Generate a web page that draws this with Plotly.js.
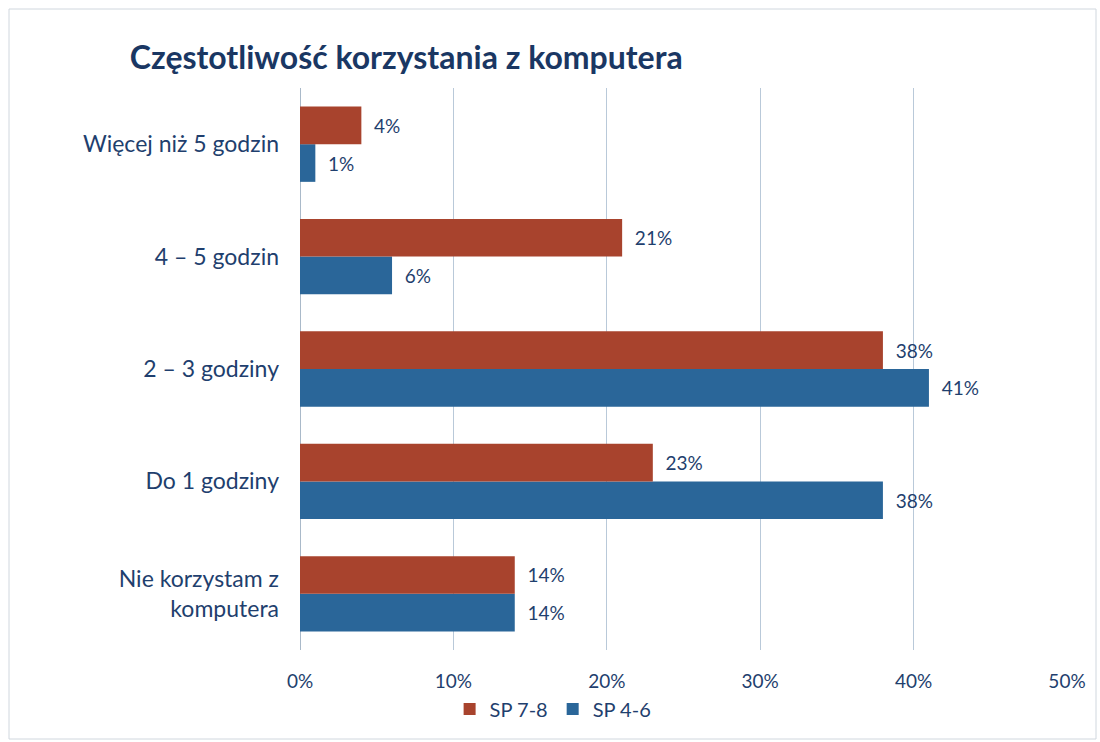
<!DOCTYPE html>
<html>
<head>
<meta charset="utf-8">
<script src="https://cdn.plot.ly/plotly-3.0.1.min.js"></script>
<style>
  html, body { margin: 0; padding: 0; background: #ffffff; }
  #chart { width: 1100px; height: 742px; }
</style>
</head>
<body>
<div id="chart"></div>
<script>
// Categories listed bottom-to-top (Plotly draws first category at bottom)
const categories = [
  "Nie korzystam z<br>komputera",
  "Do 1 godziny",
  "2 – 3 godziny",
  "4 – 5 godzin",
  "Więcej niż 5 godzin"
];
const sp78 = [14, 23, 38, 21, 4];
const sp46 = [14, 38, 41, 6, 1];
const seriesNames = ["SP 7-8", "SP 4-6"];
const tickVals = [0, 10, 20, 30, 40, 50];
const tickText = ["0%", "10%", "20%", "30%", "40%", "50%"];

const textColor = "#1F3F6E";
const fontFam = "Lato, 'Open Sans', sans-serif";

const pct = a => a.map(v => "\u00a0\u00a0" + v + "%");

// SP 4-6 first so that, in grouped horizontal bars, SP 7-8 sits above it
const traces = [
  {
    type: "bar", orientation: "h", name: seriesNames[1],
    y: categories, x: sp46,
    text: pct(sp46), textposition: "outside", cliponaxis: false,
    textfont: {color: textColor, size: 19, family: fontFam},
    marker: {color: "#2A6699"},
    showlegend: true
  },
  {
    type: "bar", orientation: "h", name: seriesNames[0],
    y: categories, x: sp78,
    text: pct(sp78), textposition: "outside", cliponaxis: false,
    textfont: {color: textColor, size: 19, family: fontFam},
    marker: {color: "#A8432D"},
    showlegend: true
  }
];

const layout = {
  width: 1100, height: 742,
  paper_bgcolor: "#ffffff", plot_bgcolor: "#ffffff",
  margin: {l: 300, r: 33, t: 88, b: 92},
  barmode: "group",
  bargap: 0.33, bargroupgap: 0,
  font: {family: fontFam, color: textColor, size: 19},
  title: {
    text: "<b>Częstotliwość korzystania z komputera</b>",
    x: 0.118, xanchor: "left", y: 0.922, yanchor: "middle",
    font: {size: 32, color: "#1A3763", family: fontFam}
  },
  xaxis: {
    range: [0, 50], tickvals: tickVals, ticktext: tickText,
    showgrid: true, gridcolor: "#B9C9D9", gridwidth: 1,
    zeroline: true, zerolinecolor: "#A9B9C9", zerolinewidth: 1,
    showline: false, ticks: "", ticklen: 0, ticklabelstandoff: 18,
    tickfont: {size: 19, color: textColor, family: fontFam}
  },
  yaxis: {
    showgrid: false, zeroline: false, showline: false,
    ticks: "", ticklabelstandoff: 20,
    tickfont: {size: 23, color: textColor, family: fontFam}
  },
  legend: {
    orientation: "h", x: 0.33, xanchor: "center", y: -0.105, yanchor: "middle",
    traceorder: "reversed",
    font: {size: 20, color: textColor, family: fontFam},
    itemwidth: 30
  },
  shapes: [
    {type: "rect", xref: "paper", yref: "paper",
     x0: (9 - 300) / 767, x1: (1096 - 300) / 767,
     y0: (742 - 92 - 739) / 562, y1: (742 - 92 - 9) / 562,
     line: {color: "#D0D7DE", width: 1}, fillcolor: "rgba(0,0,0,0)", layer: "below"}
  ]
};

Plotly.newPlot("chart", traces, layout, {displayModeBar: false, staticPlot: true});
</script>
</body>
</html>
